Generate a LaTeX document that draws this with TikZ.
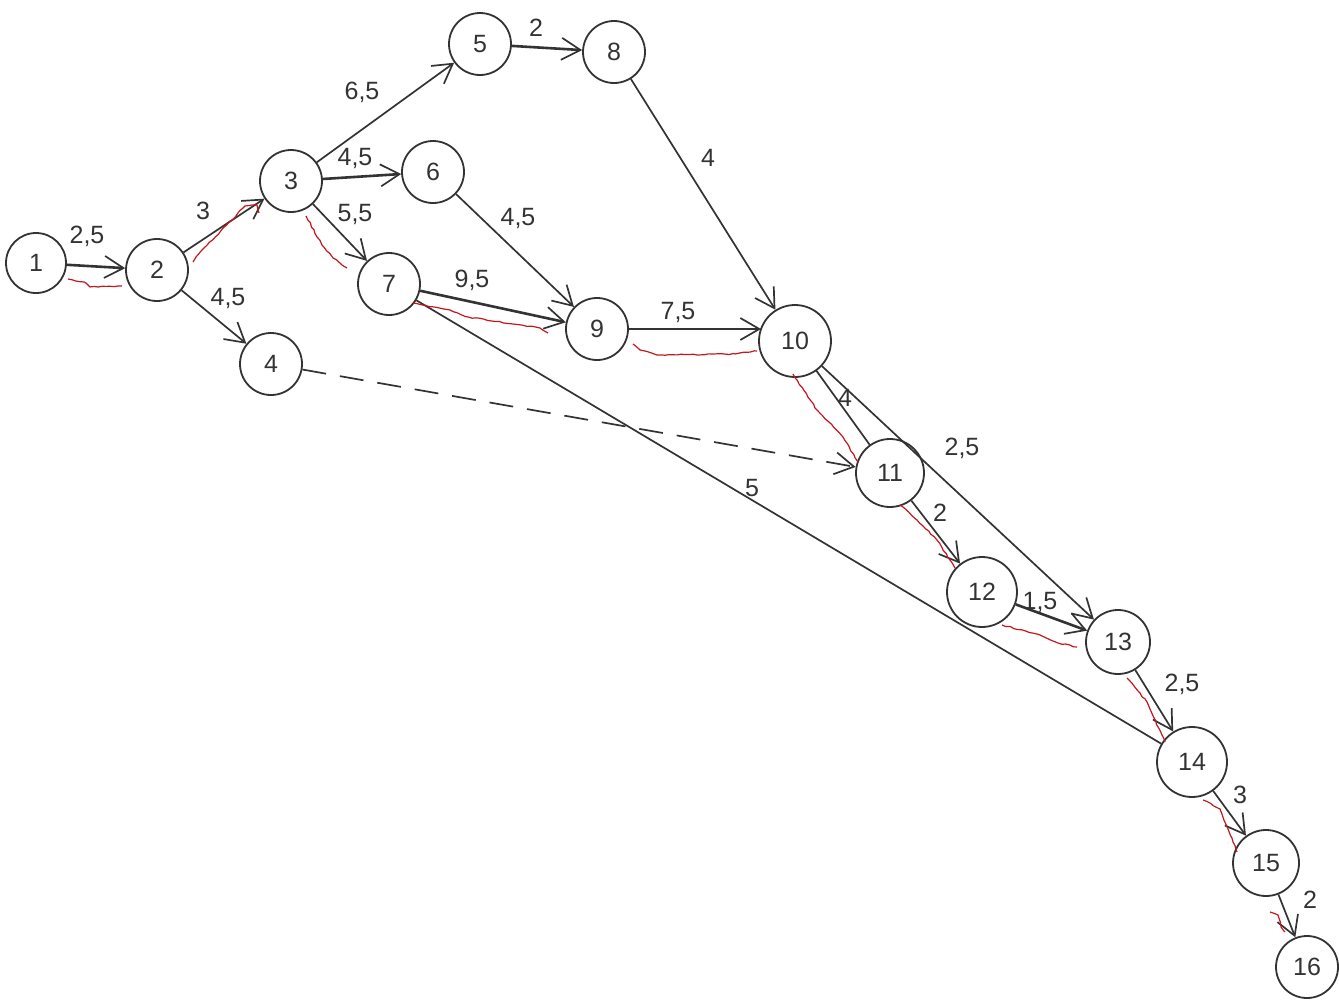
\documentclass[tikz,border=0pt]{standalone}
\usepackage{fontspec}
\setmainfont{Liberation Sans}
\usetikzlibrary{arrows.meta,decorations.pathmorphing}
\definecolor{ink}{HTML}{333333}
\definecolor{critred}{HTML}{C4161C}
\begin{document}
\begin{tikzpicture}[x=1pt,y=-1pt,
  ev/.style={circle,draw=ink,line width=1.8pt,minimum size=62pt,inner sep=0pt,
             font=\fontsize{25}{28}\selectfont,text=ink},
  act/.style={draw=ink,line width=1.7pt,
              -{Straight Barb[length=19pt,width=22pt,line width=1.7pt]}},
  dbl/.style={line width=2.6pt},
  noarr/.style={draw=ink,line width=1.7pt},
  dummy/.style={act,dash pattern=on 24pt off 14pt},
  dur/.style={font=\fontsize{25}{28}\selectfont,text=ink,inner sep=1pt},
  crit/.style={draw=critred,line width=1.2pt,line join=round,
               decorate,decoration={random steps,segment length=4pt,amplitude=0.6pt}}]
\pgfmathsetseed{7}
\useasboundingbox (0,0) rectangle (1339,1001);
% events
\node[ev,minimum size=60pt] (n1) at (36,263) {1};
\node[ev] (n2) at (157,270) {2};
\node[ev] (n3) at (291,181) {3};
\node[ev] (n4) at (271,364) {4};
\node[ev] (n5) at (480,44) {5};
\node[ev] (n6) at (433,172) {6};
\node[ev] (n7) at (389,284) {7};
\node[ev] (n8) at (614,52) {8};
\node[ev] (n9) at (597,329) {9};
\node[ev,minimum size=72pt] (n10) at (795,341) {10};
\node[ev,minimum size=68pt] (n11) at (890,473) {11};
\node[ev,minimum size=70pt] (n12) at (982,592) {12};
\node[ev,minimum size=64pt] (n13) at (1118,642) {13};
\node[ev,minimum size=70pt] (n14) at (1192,762) {14};
\node[ev,minimum size=66pt] (n15) at (1266,863) {15};
\node[ev,minimum size=62pt] (n16) at (1307,967) {16};
\coordinate (t910) at (761,329);
% activities
\draw[act,dbl] (n1) -- (n2);
\draw[act] (n2) -- (n3);
\draw[act] (n2) -- (n4);
\draw[act] (n3) -- (n5);
\draw[act,dbl] (n3) -- (n6);
\draw[act] (n3) -- (n7);
\draw[act,dbl] (n5) -- (n8);
\draw[act] (n8) -- (n10);
\draw[act] (n6) -- (n9);
\draw[act,dbl] (n7) -- (n9);
\draw[act,dbl] (n9.east) -- (t910);
\draw[noarr] (n10) -- (n11);
\draw[act] (n10) -- (n13);
\draw[noarr] (n7) -- (n14);
\draw[dummy] (n4) -- (n11);
\draw[act] (n11) -- (n12);
\draw[act,dbl] (n12) -- (n13);
\draw[act] (n13) -- (n14);
\draw[act] (n14) -- (n15);
\draw[act] (n15) -- (n16);
% durations
\node[dur] (d12) at (87,236) {2,5};
\node[dur] (d23) at (203,211) {3};
\node[dur] (d24) at (228,298) {4,5};
\node[dur] (d35) at (362,92) {6,5};
\node[dur] (d36) at (355,158) {4,5};
\node[dur] (d37) at (355,214) {5,5};
\node[dur] (d58) at (536,28) {2};
\node[dur] (d810) at (708,158) {4};
\node[dur] (d69) at (518,218) {4,5};
\node[dur] (d79) at (472,280) {9,5};
\node[dur] (d910) at (678,312) {7,5};
\node[dur] (d1011) at (845,398) {4};
\node[dur] (d1013) at (962,448) {2,5};
\node[dur] (d714) at (752,488) {5};
\node[dur] (d1112) at (940,513) {2};
\node[dur] (d1213) at (1040,602) {1,5};
\node[dur] (d1314) at (1182,684) {2,5};
\node[dur] (d1415) at (1240,795) {3};
\node[dur] (d1516) at (1310,900) {2};
% critical path marks
\draw[crit] (68,279) -- (86,283) -- (90,287) -- (122,286);
\draw[crit] (193,262) -- (196,257) -- (245,206) -- (257,205) -- (259,213);
\draw[crit] (306,216) -- (322,245) -- (333,258) -- (347,268);
\draw[crit] (413,303) -- (450,310) -- (468,317) -- (540,328) -- (548,333);
\draw[crit] (633,344) -- (640,350) -- (657,355) -- (735,354) -- (757,351);
\draw[crit] (793,374) -- (817,410) -- (843,437) -- (858,462);
\draw[crit] (900,505) -- (917,520) -- (937,540) -- (955,568);
\draw[crit] (1002,625) -- (1037,634) -- (1058,643) -- (1077,647);
\draw[crit] (1127,678) -- (1147,702) -- (1165,742);
\draw[crit] (1203,800) -- (1220,809) -- (1237,852);
\draw[crit] (1270,912) -- (1278,915) -- (1281,927) -- (1285,932);
\end{tikzpicture}
\end{document}
